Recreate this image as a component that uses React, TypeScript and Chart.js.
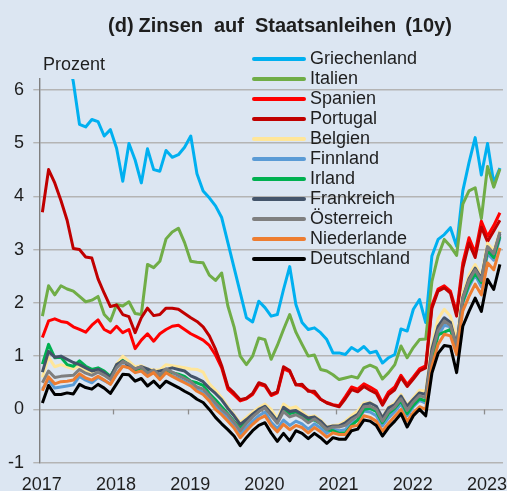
import React, { useEffect, useRef } from 'react';
import { Chart, registerables } from 'chart.js';

Chart.register(...registerables);

// Monthly data, Jan 2017 .. Mar 2023 (75 months), 10y government bond yields in percent
const YEARS = ['2017', '2018', '2019', '2020', '2021', '2022', '2023'];
const Y_TICKS = [-1, 0, 1, 2, 3, 4, 5, 6];

const GRIECHENLAND = [
  7.10, 7.40, 7.20, 6.90, 6.70, 6.15, 5.35, 5.30, 5.44, 5.40,
  5.13, 5.25, 4.90, 4.28, 4.99, 4.68, 4.25, 4.89, 4.50, 4.47,
  4.86, 4.73, 4.78, 4.92, 5.13, 4.42, 4.10, 3.97, 3.82, 3.60,
  3.13, 2.66, 2.19, 1.72, 1.64, 2.03, 1.91, 1.75, 1.78, 2.25,
  2.68, 1.97, 1.63, 1.50, 1.53, 1.44, 1.31, 1.06, 1.06, 1.03,
  1.16, 1.09, 1.18, 1.06, 1.09, 0.87, 0.97, 1.03, 1.51, 1.47,
  1.88, 2.06, 1.63, 2.88, 3.19, 3.28, 3.41, 3.06, 4.10, 4.63,
  5.10, 4.40, 4.99, 4.25, 4.53,
];
const ITALIEN = [
  1.75, 2.32, 2.15, 2.32, 2.26, 2.22, 2.12, 2.02, 2.05, 2.12,
  1.78, 1.66, 1.97, 1.94, 2.02, 1.80, 1.78, 2.72, 2.66, 2.78,
  3.20, 3.33, 3.40, 3.13, 2.78, 2.76, 2.75, 2.52, 2.42, 2.56,
  1.94, 1.55, 1.00, 0.84, 1.00, 1.34, 1.31, 0.94, 1.20, 1.50,
  1.78, 1.45, 1.22, 1.00, 1.02, 0.75, 0.72, 0.65, 0.56, 0.59,
  0.62, 0.59, 0.78, 0.83, 0.78, 0.57, 0.69, 0.84, 1.19, 0.97,
  1.16, 1.31, 1.32, 2.40, 2.88, 3.19, 3.06, 2.89, 3.85, 4.10,
  4.16, 3.58, 4.56, 4.17, 4.51,
];
const SPANIEN = [
  1.35, 1.66, 1.70, 1.65, 1.63, 1.55, 1.50, 1.45, 1.58, 1.68,
  1.50, 1.44, 1.56, 1.44, 1.50, 1.14, 1.30, 1.42, 1.28, 1.42,
  1.50, 1.56, 1.58, 1.50, 1.42, 1.36, 1.30, 1.20, 1.02, 0.78,
  0.38, 0.27, 0.16, 0.20, 0.28, 0.47, 0.44, 0.26, 0.31, 0.76,
  0.71, 0.47, 0.44, 0.36, 0.30, 0.19, 0.13, 0.09, 0.07, 0.24,
  0.42, 0.38, 0.48, 0.42, 0.35, 0.12, 0.33, 0.42, 0.64, 0.47,
  0.61, 0.76, 0.82, 1.95, 2.26, 2.32, 2.22, 1.82, 2.75, 3.22,
  2.94, 3.53, 3.25, 3.45, 3.69,
];
const PORTUGAL = [
  3.70, 4.50, 4.25, 3.92, 3.55, 3.02, 3.00, 2.86, 2.84, 2.45,
  2.18, 1.93, 1.96, 1.78, 1.74, 1.44, 1.72, 1.90, 1.76, 1.78,
  1.90, 1.90, 1.88, 1.80, 1.72, 1.65, 1.55, 1.38, 1.13, 0.82,
  0.42, 0.31, 0.18, 0.21, 0.30, 0.50, 0.46, 0.28, 0.33, 0.80,
  0.73, 0.46, 0.47, 0.34, 0.34, 0.19, 0.12, 0.08, 0.05, 0.20,
  0.37, 0.33, 0.43, 0.36, 0.30, 0.08, 0.28, 0.37, 0.60, 0.43,
  0.57, 0.72, 0.78, 1.90, 2.22, 2.28, 2.18, 1.75, 2.65, 3.12,
  2.85, 3.42, 3.15, 3.35, 3.55,
];
const BELGIEN = [
  0.60, 0.98, 0.80, 0.84, 0.80, 0.76, 0.82, 0.72, 0.68, 0.72,
  0.66, 0.60, 0.85, 1.00, 0.90, 0.80, 0.82, 0.76, 0.74, 0.74,
  0.84, 0.82, 0.80, 0.78, 0.76, 0.75, 0.70, 0.48, 0.36, 0.22,
  0.05, -0.10, -0.25, -0.15, -0.05, 0.03, 0.10, 0.00, -0.18, 0.10,
  0.02, 0.05, -0.05, -0.14, -0.12, -0.20, -0.33, -0.30, -0.29, -0.22,
  -0.12, -0.03, 0.12, 0.13, 0.05, -0.15, 0.05, 0.12, 0.28, 0.08,
  0.22, 0.36, 0.34, 1.20, 1.70, 1.88, 1.75, 1.30, 2.18, 2.52,
  2.72, 2.50, 3.12, 2.98, 3.35,
];
const FINNLAND = [
  0.38, 0.55, 0.40, 0.42, 0.44, 0.46, 0.62, 0.55, 0.50, 0.60,
  0.54, 0.48, 0.66, 0.82, 0.79, 0.70, 0.73, 0.63, 0.70, 0.58,
  0.70, 0.63, 0.58, 0.52, 0.46, 0.37, 0.32, 0.20, 0.05, -0.05,
  -0.17, -0.30, -0.47, -0.34, -0.22, -0.12, -0.05, -0.24, -0.36, -0.20,
  -0.30, -0.22, -0.27, -0.37, -0.27, -0.35, -0.45, -0.37, -0.40, -0.38,
  -0.24, -0.20, -0.03, -0.05, -0.12, -0.31, -0.16, -0.04, 0.10, -0.12,
  0.05, 0.17, 0.12, 0.95, 1.38, 1.58, 1.55, 1.15, 2.00, 2.30,
  2.52, 2.30, 2.92, 2.80, 3.22,
];
const IRLAND = [
  0.85, 1.22, 0.97, 0.98, 0.84, 0.81, 0.91, 0.81, 0.75, 0.78,
  0.72, 0.62, 0.82, 0.92, 0.84, 0.74, 0.78, 0.70, 0.72, 0.64,
  0.74, 0.69, 0.66, 0.62, 0.53, 0.50, 0.45, 0.30, 0.18, 0.05,
  -0.08, -0.22, -0.35, -0.22, -0.12, -0.03, 0.04, -0.09, -0.22, -0.02,
  -0.08, -0.05, -0.12, -0.20, -0.20, -0.27, -0.38, -0.40, -0.45, -0.44,
  -0.30, -0.20, 0.00, 0.02, -0.04, -0.25, -0.08, 0.02, 0.16, -0.08,
  0.08, 0.20, 0.16, 0.95, 1.40, 1.45, 1.50, 1.12, 2.02, 2.35,
  2.55, 2.38, 2.98, 2.85, 3.25,
];
const FRANKREICH = [
  0.70, 1.09, 0.98, 1.00, 0.94, 0.88, 0.84, 0.78, 0.72, 0.75,
  0.69, 0.60, 0.84, 0.91, 0.82, 0.76, 0.80, 0.76, 0.70, 0.72,
  0.75, 0.78, 0.75, 0.72, 0.63, 0.58, 0.52, 0.40, 0.30, 0.18,
  0.02, -0.12, -0.28, -0.19, -0.09, 0.00, 0.06, -0.07, -0.22, 0.04,
  -0.04, -0.02, -0.09, -0.16, -0.14, -0.22, -0.34, -0.31, -0.31, -0.25,
  -0.16, -0.09, 0.09, 0.12, 0.06, -0.16, 0.03, 0.09, 0.25, 0.06,
  0.19, 0.31, 0.28, 1.13, 1.56, 1.72, 1.63, 1.19, 2.10, 2.45,
  2.65, 2.45, 3.05, 2.92, 3.30,
];
const OESTERREICH = [
  0.50, 0.72, 0.60, 0.62, 0.63, 0.64, 0.75, 0.68, 0.64, 0.70,
  0.64, 0.56, 0.78, 0.90, 0.85, 0.76, 0.80, 0.68, 0.74, 0.64,
  0.76, 0.70, 0.64, 0.58, 0.52, 0.42, 0.38, 0.26, 0.12, 0.00,
  -0.10, -0.24, -0.40, -0.26, -0.14, -0.04, 0.03, -0.12, -0.26, -0.04,
  -0.14, -0.10, -0.16, -0.25, -0.18, -0.27, -0.38, -0.33, -0.33, -0.30,
  -0.20, -0.13, 0.05, 0.06, 0.00, -0.22, -0.04, 0.05, 0.20, -0.02,
  0.14, 0.26, 0.22, 1.05, 1.48, 1.66, 1.58, 1.18, 2.08, 2.42,
  2.62, 2.42, 3.05, 2.92, 3.33,
];
const NIEDERLANDE = [
  0.35, 0.61, 0.48, 0.52, 0.53, 0.55, 0.67, 0.59, 0.55, 0.62,
  0.55, 0.47, 0.66, 0.81, 0.78, 0.69, 0.72, 0.62, 0.69, 0.56,
  0.69, 0.62, 0.56, 0.50, 0.44, 0.34, 0.28, 0.16, 0.00, -0.10,
  -0.22, -0.35, -0.53, -0.40, -0.28, -0.18, -0.12, -0.30, -0.42, -0.28,
  -0.38, -0.30, -0.34, -0.44, -0.34, -0.42, -0.52, -0.44, -0.47, -0.47,
  -0.32, -0.30, -0.12, -0.15, -0.22, -0.41, -0.26, -0.13, 0.00, -0.22,
  -0.06, 0.05, 0.00, 0.81, 1.22, 1.41, 1.38, 1.03, 1.85, 2.12,
  2.35, 2.15, 2.75, 2.62, 3.03,
];
const DEUTSCHLAND = [
  0.12, 0.45, 0.28, 0.28, 0.31, 0.29, 0.47, 0.41, 0.38, 0.47,
  0.40, 0.30, 0.48, 0.66, 0.65, 0.53, 0.58, 0.44, 0.53, 0.41,
  0.53, 0.47, 0.41, 0.34, 0.28, 0.19, 0.13, 0.00, -0.15, -0.27,
  -0.38, -0.50, -0.68, -0.53, -0.40, -0.30, -0.25, -0.44, -0.60, -0.45,
  -0.59, -0.40, -0.45, -0.55, -0.45, -0.53, -0.64, -0.53, -0.56, -0.56,
  -0.40, -0.37, -0.20, -0.22, -0.30, -0.50, -0.34, -0.22, -0.08, -0.33,
  -0.12, 0.00, -0.12, 0.68, 1.05, 1.20, 1.18, 0.69, 1.56, 1.84,
  2.09, 1.84, 2.44, 2.25, 2.72,
];

const SERIES_NAMES = [
  'Griechenland', 'Italien', 'Spanien', 'Portugal', 'Belgien', 'Finnland',
  'Irland', 'Frankreich', 'Österreich', 'Niederlande', 'Deutschland',
];
const SERIES_VALUES = [
  GRIECHENLAND, ITALIEN, SPANIEN, PORTUGAL, BELGIEN, FINNLAND,
  IRLAND, FRANKREICH, OESTERREICH, NIEDERLANDE, DEUTSCHLAND,
];
const SERIES_COLORS = [
  '#00b0f0', '#70ad47', '#ff0000', '#c00000', '#ffe699', '#5b9bd5',
  '#00b050', '#44546a', '#7f7f7f', '#ed7d31', '#000000',
];

const TITLE_WORDS = ['(d)', 'Zinsen', 'auf', 'Staatsanleihen', '(10y)'];
const UNIT_LABEL = 'Prozent';

const BG = '#dce6f2';
const FONT = '"Liberation Sans", Arial, Helvetica, sans-serif';
const TEXT = '#1e1e1e';
const W = 507;
const H = 491;

const decorPlugin = {
  id: 'decor',
  beforeDatasetsDraw(chart: any) {
    const { ctx, scales } = chart;
    const x = scales.x;
    const y = scales.y;
    const y0 = y.getPixelForValue(0);
    ctx.save();
    ctx.strokeStyle = '#8c8c8c';
    ctx.lineWidth = 1.3;
    YEARS.forEach((_, k) => {
      if (k === 0) return;
      const px = Math.round(x.getPixelForValue(k * 12)) + 0.5;
      ctx.beginPath();
      ctx.moveTo(px, y0);
      ctx.lineTo(px, y0 + 5);
      ctx.stroke();
    });
    ctx.restore();
  },
  afterDraw(chart: any) {
    const { ctx } = chart;
    ctx.save();
    // title
    ctx.fillStyle = TEXT;
    ctx.font = `bold 20px ${FONT}`;
    ctx.textBaseline = 'alphabetic';
    ctx.textAlign = 'left';
    const gaps = [5, 11, 11, 9];
    let tx = 108;
    TITLE_WORDS.forEach((w, i) => {
      ctx.fillText(w, tx, 31.5);
      tx += ctx.measureText(w).width + (gaps[i] || 0);
    });
    // unit label
    ctx.font = `18px ${FONT}`;
    ctx.fillText(UNIT_LABEL, 43, 70);
    // legend
    ctx.textBaseline = 'middle';
    SERIES_NAMES.forEach((name, k) => {
      const ry = 59 + k * 20;
      ctx.strokeStyle = SERIES_COLORS[k];
      ctx.lineWidth = 4;
      ctx.lineCap = 'round';
      ctx.beginPath();
      ctx.moveTo(254, ry);
      ctx.lineTo(304, ry);
      ctx.stroke();
      ctx.fillStyle = TEXT;
      ctx.fillText(name, 310, ry + 0.5);
    });
    ctx.restore();
  },
};

export default function App() {
  const ref = useRef<HTMLCanvasElement>(null);

  useEffect(() => {
    const canvas = ref.current;
    if (!canvas) return;
    const n = SERIES_NAMES.length;
    const datasets = SERIES_NAMES.map((name, k) => ({
      label: name,
      data: SERIES_VALUES[k].map((v, i) => ({ x: i + 0.5, y: v })),
      borderColor: SERIES_COLORS[k],
      backgroundColor: SERIES_COLORS[k],
      borderWidth: 3,
      pointRadius: 0,
      pointHoverRadius: 0,
      tension: 0,
      fill: false,
      borderJoinStyle: 'round' as const,
      order: n - k,
    }));

    const chart = new Chart(canvas, {
      type: 'line',
      data: { datasets },
      plugins: [decorPlugin],
      options: {
        animation: false,
        responsive: false,
        maintainAspectRatio: false,
        devicePixelRatio: 1,
        events: [],
        layout: { padding: { left: 8, top: 79, right: 4, bottom: 0 } },
        plugins: {
          legend: { display: false },
          title: { display: false },
          tooltip: { enabled: false },
        },
        scales: {
          x: {
            type: 'linear',
            min: 0,
            max: SERIES_VALUES[0].length,
            grid: { display: false },
            border: { display: false },
            afterBuildTicks: (s: any) => {
              s.ticks = YEARS.map((_, k) => ({ value: k * 12 }));
            },
            afterFit: (s: any) => {
              s.height = H - 462.7;
              s.paddingLeft = 0;
              s.paddingRight = 0;
            },
            ticks: {
              autoSkip: false,
              maxRotation: 0,
              minRotation: 0,
              padding: 4,
              labelOffset: 2.5,
              color: TEXT,
              font: { family: FONT, size: 18 },
              callback: (v: any) => YEARS[Math.round(Number(v) / 12)] ?? '',
            },
          },
          y: {
            type: 'linear',
            min: -1,
            max: 6.2,
            afterBuildTicks: (s: any) => {
              s.ticks = Y_TICKS.map((v) => ({ value: v }));
            },
            afterFit: (s: any) => {
              s.width = 31.3;
              s.paddingTop = 0;
              s.paddingBottom = 0;
            },
            grid: {
              color: '#b4b4b4',
              lineWidth: 1.4,
              drawTicks: true,
              tickLength: 6,
            },
            border: { display: true, color: '#7f7f7f', width: 1.4 },
            ticks: {
              padding: 9.3,
              color: TEXT,
              font: { family: FONT, size: 18 },
              callback: (v: any) => String(v),
            },
          },
        },
      },
    });
    return () => chart.destroy();
  }, []);

  return (
    <div style={{ position: 'fixed', left: 0, top: 0, width: W, height: H, background: BG }}>
      <canvas ref={ref} width={W} height={H} style={{ display: 'block', width: W, height: H }} />
    </div>
  );
}
